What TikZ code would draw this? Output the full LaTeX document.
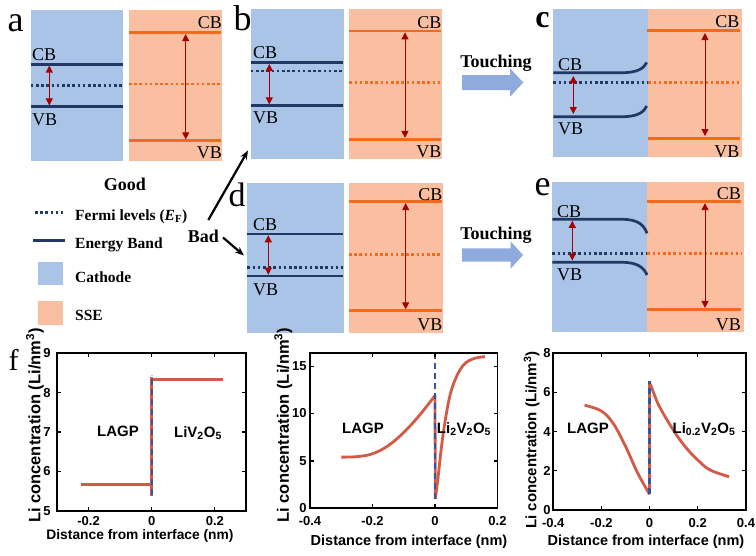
\documentclass[tikz,border=0pt]{standalone}
\usepackage{fontspec}
\setmainfont{Liberation Serif}
\newfontfamily\arialf{Liberation Sans}
\usetikzlibrary{arrows.meta}
\definecolor{cblue}{HTML}{A9C4E6}
\definecolor{spink}{HTML}{F9BFA0}
\definecolor{navy}{HTML}{1F3864}
\definecolor{orng}{HTML}{F26B1D}
\definecolor{gapred}{HTML}{C00000}
\definecolor{tarrow}{HTML}{8FAADC}
\definecolor{curvec}{HTML}{D25A46}
\definecolor{dashblue}{HTML}{2F55A4}
\tikzset{
  band/.style={line width=2.7pt, draw=navy},
  fermi/.style={line width=2.6pt, draw=navy, dash pattern=on 2.6pt off 2.6pt},
  sband/.style={line width=2.7pt, draw=orng},
  sfermi/.style={line width=2.6pt, draw=orng, dash pattern=on 2.6pt off 2.6pt},
  gap/.style={draw=gapred!85!black, line width=0.9pt, {Triangle[length=7pt,width=7pt]}-{Triangle[length=7pt,width=7pt]}},
  bt/.style={inner sep=0pt, font=\fontsize{18}{18}\selectfont},
  plabel/.style={inner sep=0pt, font=\fontsize{36}{36}\selectfont},
  leg/.style={inner sep=0pt, font=\bfseries\fontsize{15.5}{16}\selectfont},
  touch/.style={inner sep=0pt, font=\bfseries\fontsize{18}{18}\selectfont},
  blk/.style={line width=2.2pt, -{Stealth[length=9pt,width=7pt]}},
  axisbox/.style={line width=1.8pt},
  tk/.style={line width=1.2pt},
  ticklab/.style={inner sep=0pt, font=\arialf\bfseries\fontsize{13}{13}\selectfont},
  xlab/.style={inner sep=0pt, font=\arialf\bfseries\fontsize{14.5}{15}\selectfont},
  ylab/.style={inner sep=0pt, rotate=90, font=\arialf\bfseries\fontsize{16.5}{17}\selectfont},
  ptext/.style={inner sep=0pt, font=\arialf\bfseries\fontsize{15}{15}\selectfont},
  dcurve/.style={draw=curvec, line width=2.8pt},
  ddash/.style={draw=dashblue, line width=2.4pt, dash pattern=on 6pt off 4pt},
}
\begin{document}
\begin{tikzpicture}[x=1pt,y=-1pt]
\useasboundingbox (0,0) rectangle (756,555);
\fill[white] (0,0) rectangle (756,555);

% ---------- panel a ----------
\fill[cblue] (30.7,10) rectangle (123,160.7);
\fill[spink] (129,10) rectangle (222,160.7);
\draw[band] (30.7,64.3) -- (123,64.3);
\draw[fermi] (30.7,85.3) -- (123,85.3);
\draw[band] (30.7,106.7) -- (123,106.7);
\coordinate (aG1) at (49.3,65.6); \coordinate (aG2) at (49.3,105.4);
\draw[gap] (aG1) -- (aG2);
\draw[sband] (129,32.7) -- (221,32.7);
\draw[sfermi] (129,84) -- (221,84);
\draw[sband] (129,140.7) -- (221,140.7);
\coordinate (aS1) at (185.7,34.1); \coordinate (aS2) at (185.7,139.3);
\draw[gap] (aS1) -- (aS2);
\node[bt,anchor=west] (aCB) at (32,55) {CB};
\node[bt,anchor=west] (aVB) at (32,120) {VB};
\node[bt,anchor=east] (aCB2) at (222,22.7) {CB};
\node[bt,anchor=east] (aVB2) at (222,153) {VB};
\node[plabel] (la) at (15.5,23.5) {a};

% ---------- panel b ----------
\fill[cblue] (250.7,9.3) rectangle (344,158.7);
\fill[spink] (349.3,9.3) rectangle (441.7,158.7);
\draw[band] (250.7,62.7) -- (343,62.7);
\draw[fermi] (250.7,71) -- (343,71);
\draw[band] (250.7,105.7) -- (343,105.7);
\coordinate (bG1) at (269.3,64); \coordinate (bG2) at (269.3,104.4);
\draw[gap] (bG1) -- (bG2);
\draw[sband] (349.3,31) -- (441,31);
\draw[sfermi] (349.3,82.3) -- (441,82.3);
\draw[sband] (349.3,139.3) -- (441,139.3);
\coordinate (bS1) at (405,32.4); \coordinate (bS2) at (405,137.9);
\draw[gap] (bS1) -- (bS2);
\node[bt,anchor=west] (bCB) at (253,53) {CB};
\node[bt,anchor=west] (bVB) at (253,118) {VB};
\node[bt,anchor=east] (bCB2) at (441.7,23) {CB};
\node[bt,anchor=east] (bVB2) at (441.7,151.7) {VB};
\node[plabel] (lb) at (242.5,18.5) {b};

% ---------- Touching arrows ----------
\node[touch] (t1) at (496,63) {Touching};
\fill[tarrow] (462,75) -- (510,75) -- (510,68.3) -- (523.3,82.5) -- (510,96.7) -- (510,90) -- (462,90) -- cycle;
\node[touch] (t2) at (496,235) {Touching};
\fill[tarrow] (462,248.3) -- (510.7,248.3) -- (510.7,241.5) -- (523,255) -- (510.7,268.5) -- (510.7,261.7) -- (462,261.7) -- cycle;

% ---------- panel c ----------
\fill[cblue] (553.3,9.3) rectangle (648.3,157.3);
\fill[spink] (648.3,9.3) rectangle (741.7,157.3);
\draw[band] (553.3,72.7) -- (622,72.7) .. controls (638,72.7) and (644,68) .. (646.7,62.5);
\draw[fermi] (553.3,82.3) -- (648.3,82.3);
\draw[band] (553.3,116.7) -- (622,116.7) .. controls (638,116.7) and (644,112) .. (646.7,106);
\coordinate (cG1) at (573.3,76); \coordinate (cG2) at (573.3,114);
\draw[gap] (cG1) -- (cG2);
\draw[sband] (646.7,30.7) -- (739.5,30.7);
\draw[sfermi] (648.3,82.3) -- (739.5,82.3);
\draw[sband] (648.3,138.3) -- (739.5,138.3);
\coordinate (cS1) at (705,33); \coordinate (cS2) at (705,136);
\draw[gap] (cS1) -- (cS2);
\node[bt,anchor=west] (cCB) at (558,65) {CB};
\node[bt,anchor=west] (cVB) at (558,129) {VB};
\node[bt,anchor=east] (cCB2) at (739.5,21.7) {CB};
\node[bt,anchor=east] (cVB2) at (739.5,151.7) {VB};
\node[plabel,font=\bfseries\fontsize{32}{32}\selectfont] (lc) at (542.5,20.5) {c};

% ---------- legend ----------
\node[inner sep=0pt,font=\bfseries\fontsize{18}{18}\selectfont,anchor=base] (good) at (125,190) {Good};
\coordinate (lf1) at (35,212.7); \coordinate (lf2) at (62.5,212.7);
\draw[fermi] (lf1) -- (lf2);
\node[leg,anchor=base west] (lfermi) at (75,220.3) {Fermi levels (\textit{E}\textsubscript{F})};
\coordinate (le1) at (33,240.7); \coordinate (le2) at (65,240.7);
\draw[band] (le1) -- (le2);
\node[leg,anchor=base west] (lband) at (75,248.3) {Energy Band};
\fill[cblue] (37.7,262.3) rectangle (62.7,285);
\node[leg,anchor=base west] (lcath) at (75,282.3) {Cathode};
\fill[spink] (37.7,301) rectangle (62.7,325);
\node[leg,anchor=base west] (lsse) at (75,320) {SSE};

% ---------- Bad arrows ----------
\node[inner sep=0pt,font=\bfseries\fontsize{18}{18}\selectfont] (bad) at (203.5,236.7) {Bad};
\coordinate (bad1s) at (208.3,220); \coordinate (bad1e) at (248,150.5);
\draw[blk] (bad1s) -- (bad1e);
\coordinate (bad2s) at (223,237.5); \coordinate (bad2e) at (244,255.5);
\draw[blk] (bad2s) -- (bad2e);

% ---------- panel d ----------
\fill[cblue] (247.3,183.3) rectangle (344,333.3);
\fill[spink] (349,183.3) rectangle (442.7,333.3);
\draw[band] (247.3,234) -- (343,234);
\draw[fermi] (247.3,267.3) -- (343,267.3);
\draw[band] (247.3,276) -- (343,276);
\coordinate (dG1) at (268.3,235.3); \coordinate (dG2) at (268.3,274.7);
\draw[gap] (dG1) -- (dG2);
\draw[sband] (349,201.7) -- (442,201.7);
\draw[sfermi] (349,254.3) -- (442,254.3);
\draw[sband] (349,310.7) -- (442,310.7);
\coordinate (dS1) at (405.7,203.1); \coordinate (dS2) at (405.7,309.3);
\draw[gap] (dS1) -- (dS2);
\node[bt,anchor=west] (dCB) at (253,225) {CB};
\node[bt,anchor=west] (dVB) at (253,290) {VB};
\node[bt,anchor=east] (dCB2) at (442.7,194.3) {CB};
\node[bt,anchor=east] (dVB2) at (442.7,325) {VB};
\node[plabel,font=\fontsize{34}{34}\selectfont] (ld) at (237,195) {d};

% ---------- panel e ----------
\fill[cblue] (552.3,182.3) rectangle (647.3,332.3);
\fill[spink] (647.3,182.3) rectangle (744,332.3);
\draw[band] (552.3,219.3) -- (622,219.3) .. controls (638,219.3) and (644,225) .. (647,233.3);
\draw[fermi] (552.3,253.3) -- (647.3,253.3);
\draw[band] (552.3,262.3) -- (622,262.3) .. controls (638,262.3) and (644,268) .. (647,275);
\coordinate (eG1) at (572.3,220.8); \coordinate (eG2) at (572.3,260.5);
\draw[gap] (eG1) -- (eG2);
\draw[sband] (647.3,201.7) -- (741,201.7);
\draw[sfermi] (647.3,253.3) -- (741,253.3);
\draw[sband] (647.3,309.3) -- (741,309.3);
\coordinate (eS1) at (705,203.1); \coordinate (eS2) at (705,307.9);
\draw[gap] (eS1) -- (eS2);
\node[bt,anchor=west] (eCB) at (557,211.7) {CB};
\node[bt,anchor=west] (eVB) at (557,275) {VB};
\node[bt,anchor=east] (eCB2) at (741,193.3) {CB};
\node[bt,anchor=east] (eVB2) at (741,324.3) {VB};
\node[plabel] (le) at (542.5,187.5) {e};

% ---------- panel f label ----------
\node[plabel,font=\fontsize{30}{30}\selectfont] (lf) at (13.5,360) {f};

% ---------- plot 1 ----------
\begin{scope}[shift={(151.7,510.7)},x=315.6pt,y=39.35pt]
  \draw[dcurve] (-0.225,0.67) -- (0.003,0.67);
  \draw[dcurve] (0,0.38) -- (0,3.4);
  \draw[dcurve] (-0.003,3.33) -- (0.225,3.33);
  \draw[ddash] (0,0.4) -- (0,3.45);
  \foreach \xx/\tl in {-0.2/-0.2,0/0,0.2/0.2} {
    \draw[tk] (\xx,0) -- ++(0pt,4pt);
    \draw[tk] (\xx,4) -- ++(0pt,-4pt);
    \node[ticklab,anchor=north] at (\xx,-0.14) {\tl};
  }
  \foreach \yy/\tl in {0/5,1/6,2/7,3/8,4/9} {
    \draw[tk] (-0.3,\yy) -- ++(4pt,0pt);
    \draw[tk] (0.3,\yy) -- ++(-4pt,0pt);
    \node[ticklab,anchor=east] at (-0.32,\yy) {\tl};
  }
  \draw[axisbox] (-0.3,0) rectangle (0.3,4);
\end{scope}
\node[ptext] (p1a) at (118,431.7) {LAGP};
\node[ptext] (p1b) at (198,433) {LiV\textsubscript{2}O\textsubscript{5}};
\node[ylab] (p1y) at (35,425.5) {Li concentration (Li/nm\textsuperscript{3})};
\node[xlab,font=\arialf\bfseries\fontsize{13.8}{14}\selectfont] (p1x) at (140,535.5) {Distance from interface (nm)};

% ---------- plot 2 ----------
\begin{scope}[shift={(435,508.3)},x=312.5pt,y=9.48pt]
  \draw[dcurve] plot[smooth,tension=0.6] coordinates {(-0.3,5.4) (-0.25,5.45) (-0.2,5.75) (-0.15,6.6) (-0.1,8.0) (-0.05,9.8) (0,11.9)};
  \draw[dcurve] (0,11.9) -- (0.001,1.0);
  \draw[dcurve] plot[smooth,tension=0.55] coordinates {(0.001,1.0) (0.01,3.3) (0.02,6.3) (0.03,8.7) (0.045,11.5) (0.06,13.2) (0.08,14.6) (0.1,15.4) (0.13,15.85) (0.16,16.0)};
  \draw[ddash] (0,1.0) -- (0,16.4);
  \foreach \xx/\tl in {-0.4/-0.4,-0.2/-0.2,0/0,0.2/0.2} {
    \draw[tk] (\xx,0) -- ++(0pt,4pt);
    \draw[tk] (\xx,16.4) -- ++(0pt,-4pt);
    \node[ticklab,anchor=north] at (\xx,-0.85) {\tl};
  }
  \foreach \yy in {0,5,10,15} {
    \draw[tk] (-0.4,\yy) -- ++(4pt,0pt);
    \draw[tk] (0.2,\yy) -- ++(-4pt,0pt);
    \node[ticklab,anchor=east] at (-0.41,\yy) {\yy};
  }
  \draw[axisbox] (-0.4,0) rectangle (0.2,16.4);
\end{scope}
\node[ptext] (p2a) at (363,428) {LAGP};
\node[ptext] (p2b) at (464,429) {Li\textsubscript{2}V\textsubscript{2}O\textsubscript{5}};
\node[ylab] (p2y) at (283.3,425) {Li concentration (Li/nm\textsuperscript{3})};
\node[xlab] (p2x) at (409,542) {Distance from interface (nm)};

% ---------- plot 3 ----------
\begin{scope}[shift={(649.6,510)},x=240.9pt,y=19.59pt]
  \draw[dcurve] plot[smooth,tension=0.6] coordinates {(-0.27,5.35) (-0.2,5.05) (-0.15,4.4) (-0.1,3.25) (-0.05,1.9) (0,0.8)};
  \draw[dcurve] (0,0.8) -- (0,6.5);
  \draw[dcurve] plot[smooth,tension=0.6] coordinates {(0,6.5) (0.01,6.2) (0.04,5.3) (0.1,4.05) (0.15,3.2) (0.2,2.55) (0.25,2.05) (0.33,1.7)};
  \draw[ddash] (0,0.8) -- (0,6.6);
  \foreach \xx/\tl in {-0.4/-0.4,-0.2/-0.2,0/0,0.2/0.2,0.4/0.4} {
    \draw[tk] (\xx,0) -- ++(0pt,4pt);
    \draw[tk] (\xx,8) -- ++(0pt,-4pt);
    \node[ticklab,anchor=north] at (\xx,-0.42) {\tl};
  }
  \foreach \yy in {0,2,4,6,8} {
    \draw[tk] (-0.4,\yy) -- ++(4pt,0pt);
    \draw[tk] (0.4,\yy) -- ++(-4pt,0pt);
    \node[ticklab,anchor=east] at (-0.41,\yy) {\yy};
  }
  \draw[axisbox] (-0.4,0) rectangle (0.4,8);
\end{scope}
\node[ptext] (p3a) at (588,428) {LAGP};
\node[ptext] (p3b) at (704,429) {Li\textsubscript{0.2}V\textsubscript{2}O\textsubscript{5}};
\node[ylab,font=\arialf\bfseries\fontsize{15}{15}\selectfont] (p3y) at (531.7,440) {Li concentration (Li/nm\textsuperscript{3})};
\node[xlab] (p3x) at (646,541.5) {Distance from interface (nm)};
\end{tikzpicture}
\end{document}
